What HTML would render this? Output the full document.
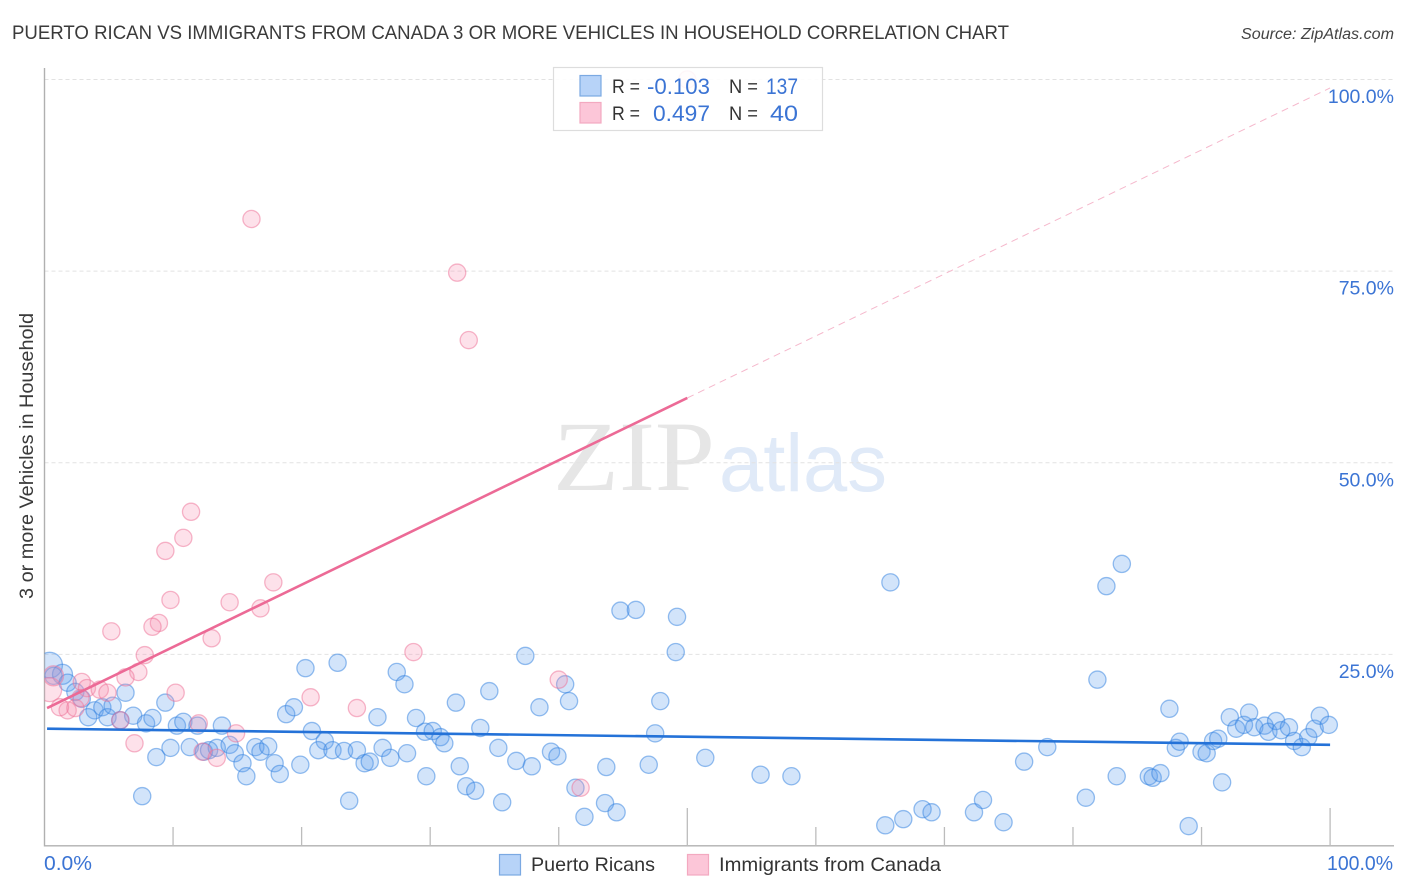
<!DOCTYPE html>
<html lang="en">
<head>
<meta charset="utf-8">
<title>Puerto Rican vs Immigrants from Canada correlation chart</title>
<style>
html,body{margin:0;padding:0;background:#fff}
svg{display:block;font-family:"Liberation Sans",sans-serif}
</style>
</head>
<body>
<svg id="chart" xmlns="http://www.w3.org/2000/svg" width="1406" height="892" viewBox="0 0 1406 892">
  <defs><clipPath id="plot-clip"><rect x="44.5" y="60" width="1350" height="786"/></clipPath></defs>
  <rect width="1406" height="892" fill="#fff"/>
  <text x="12" y="39" font-size="19.5" fill="#3a3a3a" textLength="997" lengthAdjust="spacingAndGlyphs">PUERTO RICAN VS IMMIGRANTS FROM CANADA 3 OR MORE VEHICLES IN HOUSEHOLD CORRELATION CHART</text>
  <text x="1394" y="39" font-size="15.5" font-style="italic" fill="#444" text-anchor="end" textLength="153" lengthAdjust="spacingAndGlyphs">Source: ZipAtlas.com</text>
  <text transform="translate(33,456) rotate(-90)" font-size="19" fill="#3a3a3a" text-anchor="middle" textLength="286" lengthAdjust="spacingAndGlyphs">3 or more Vehicles in Household</text>

  <g>
    <text x="553" y="490" font-family="'Liberation Serif',serif" font-size="100" fill="#e6e6e6" textLength="162" lengthAdjust="spacingAndGlyphs">ZIP</text>
    <text x="719" y="491" font-size="82" fill="#e0eaf8" textLength="168" lengthAdjust="spacingAndGlyphs">atlas</text>
  </g>

  <g id="grid"></g>
  <g id="axes"></g>
  <g id="blue-points" clip-path="url(#plot-clip)"></g>
  <g id="pink-points" clip-path="url(#plot-clip)"></g>
  <g id="trends"></g>
  <g id="labels"></g>

  <g>
    <rect x="553.5" y="67.5" width="269" height="63" fill="#fff" fill-opacity="0.88" stroke="#ddd" stroke-width="1.2"/>
    <rect x="580" y="75.5" width="21" height="20.5" fill="#b7d3f8" stroke="#7ba9e2" stroke-width="1.2"/>
    <rect x="580" y="102.5" width="21" height="20.5" fill="#fcc6d8" stroke="#f3a9c0" stroke-width="1.2"/>
    <text x="612" y="93" font-size="19" fill="#333" textLength="28" lengthAdjust="spacingAndGlyphs">R =</text>
    <text x="647" y="94" font-size="22.5" fill="#3b74d4" textLength="63" lengthAdjust="spacingAndGlyphs">-0.103</text>
    <text x="729" y="93" font-size="19" fill="#333" textLength="29" lengthAdjust="spacingAndGlyphs">N =</text>
    <text x="766" y="94" font-size="22.5" fill="#3b74d4" textLength="32" lengthAdjust="spacingAndGlyphs">137</text>
    <text x="612" y="120" font-size="19" fill="#333" textLength="28" lengthAdjust="spacingAndGlyphs">R =</text>
    <text x="653" y="121" font-size="22.5" fill="#3b74d4" textLength="57" lengthAdjust="spacingAndGlyphs">0.497</text>
    <text x="729" y="120" font-size="19" fill="#333" textLength="29" lengthAdjust="spacingAndGlyphs">N =</text>
    <text x="770" y="121" font-size="22.5" fill="#3b74d4" textLength="28" lengthAdjust="spacingAndGlyphs">40</text>
  </g>

  <g>
    <g>
      <rect x="499.5" y="854.5" width="21" height="20.5" fill="#b7d3f8" stroke="#7ba9e2" stroke-width="1.2"/>
      <text x="531" y="871" font-size="19.5" fill="#333" textLength="124" lengthAdjust="spacingAndGlyphs">Puerto Ricans</text>
    </g>
    <g>
      <rect x="687.5" y="854.5" width="21" height="20.5" fill="#fcc6d8" stroke="#f3a9c0" stroke-width="1.2"/>
      <text x="719" y="871" font-size="19.5" fill="#333" textLength="222" lengthAdjust="spacingAndGlyphs">Immigrants from Canada</text>
    </g>
  </g>
</svg>
<script>
const blueX = [0.4,1.4,0.7,1.8,2.4,2.9,3.9,3.4,4.5,4.9,5.3,6.3,5.9,6.9,7.9,8.4,9.4,8.7,9.8,7.6,10.3,10.8,11.9,11.3,12.4,12.8,13.4,13.8,14.4,14.8,15.4,15.7,16.4,16.8,17.4,17.9,18.3,18.8,19.4,20.3,19.9,20.8,21.8,21.3,22.4,22.8,23.3,23.7,24.3,24.9,25.3,26.3,26.9,28.2,25.9,27.4,28.0,28.9,29.6,30.2,30.8,31.1,29.7,32.0,33.9,34.6,32.3,32.8,33.5,35.3,36.7,37.9,35.6,37.4,38.5,39.4,39.9,40.5,40.8,41.3,43.7,43.6,42.0,44.5,47.0,47.5,47.9,49.1,51.4,44.8,46.0,49.2,55.7,58.1,65.8,82.6,83.8,65.4,66.8,68.3,69.0,72.3,73.0,74.6,76.2,78.0,81.9,87.5,81.0,83.4,85.9,86.2,86.8,88.0,88.3,89.0,91.6,90.0,90.4,90.9,91.3,92.2,92.7,93.3,93.7,94.1,94.9,95.2,95.8,96.2,96.8,97.2,97.8,98.3,98.8,99.2,99.9];
const blueY = [23.6,22.4,22.2,21.3,20.1,19.2,17.7,16.8,18.1,16.8,18.3,20.0,16.4,17.0,16.0,16.7,18.7,11.6,12.8,6.5,15.7,16.2,15.7,12.9,12.3,12.5,12.8,15.7,13.2,12.1,10.8,9.1,12.9,12.3,13.0,10.8,9.4,17.2,18.1,23.2,10.6,15.0,13.7,12.5,12.5,23.9,12.4,5.9,12.5,10.8,11.0,12.8,11.5,12.1,16.8,22.7,21.1,16.7,14.9,15.0,14.2,13.4,9.1,18.7,15.4,20.2,10.4,7.8,7.2,12.8,11.1,10.4,5.7,24.8,18.1,12.3,11.7,21.1,18.9,7.6,10.3,5.6,3.8,4.4,10.6,14.7,18.9,25.3,11.5,30.7,30.8,29.9,9.3,9.1,34.4,33.9,36.8,2.7,3.5,4.8,4.4,4.4,6.0,3.1,11.0,12.9,21.7,17.9,6.3,9.1,9.1,8.9,9.5,12.8,13.6,2.6,8.3,12.3,12.1,13.7,14.0,16.8,15.3,15.8,17.4,15.5,15.7,14.9,16.3,15.1,15.5,13.7,12.9,14.2,15.3,17.0,15.8];
const pinkX = [16.1,32.1,33.0,11.4,10.8,9.4,9.8,14.4,17.8,16.8,13.0,8.9,8.4,5.2,7.8,28.7,7.3,6.3,10.2,20.7,24.3,40.0,7.0,14.9,12.0,5.9,12.3,13.4,41.7,2.9,3.3,4.3,4.9,0.4,1.8,2.4,1.2,2.8,0.7,50.0];
const pinkY = [81.8,74.8,66.0,43.6,40.2,38.5,32.1,31.8,34.4,31.0,27.1,29.1,28.6,28.0,24.9,25.3,22.7,22.0,20.0,19.4,18.0,21.7,13.4,14.7,16.0,16.4,12.3,11.5,7.6,21.4,20.6,20.4,20.0,20.4,17.7,18.0,18.1,19.3,22.2,100.0];
const blueTrendEnds = [15.3, 13.2];
const pinkTrendEnds = [18.0, 98.9];
const yGridValues = [25, 50, 75, 100];
const yTickLabels = ['25.0%', '50.0%', '75.0%', '100.0%'];
const xTickValues = [10, 20, 30, 40, 50, 60, 70, 80, 90, 100];
const xEndValues = [0, 100];
const xEndLabels = ['0.0%', '100.0%'];

const NS = 'http://www.w3.org/2000/svg';
const xScale = v => 44.5 + v * 12.856;
const yScale = v => 846 - v * 7.665;
function make(tag, attrs, parent) {
  const el = document.createElementNS(NS, tag);
  for (const k in attrs) el.setAttribute(k, attrs[k]);
  parent.appendChild(el);
  return el;
}
const gridG = document.getElementById('grid');
const axesG = document.getElementById('axes');
const blueG = document.getElementById('blue-points');
const pinkG = document.getElementById('pink-points');
const trendG = document.getElementById('trends');
const labelG = document.getElementById('labels');

yGridValues.forEach(v => {
  const el = make('line', {x1: 44.5, x2: 1393, y1: yScale(v), y2: yScale(v), stroke: '#e2e2e2', 'stroke-width': 1, 'stroke-dasharray': '4 3'}, gridG);
  
  
});

const yAxis = make('line', {x1: 44.5, x2: 44.5, y1: 68, y2: 846.5, stroke: '#b0b0b0', 'stroke-width': 1.4}, axesG);


const xAxis = make('line', {x1: 44, x2: 1394, y1: 845.8, y2: 845.8, stroke: '#b0b0b0', 'stroke-width': 1.4}, axesG);


xTickValues.forEach(v => {
  const tall = v === 50 || v === 100;
  const el = make('line', {x1: xScale(v), x2: xScale(v), y1: tall ? 808 : 827, y2: 846, stroke: '#bcbcbc', 'stroke-width': 1.3}, axesG);
  
  
});

function drawPoints(xs, ys, group, fill, stroke, radius, name) {
  xs.forEach((v, i) => {
    const el = make('circle', {cx: xScale(v), cy: yScale(ys[i]), r: radius(i), fill: fill, 'fill-opacity': 0.27, stroke: stroke, 'stroke-opacity': 0.5, 'stroke-width': 1.3}, group);
    
    
  });
}
drawPoints(blueX, blueY, blueG, '#5a9bec', '#2f7fe0', i => i === 0 ? 12.8 : i === 1 ? 10 : 8.6, 'puerto-ricans-point');
drawPoints(pinkX, pinkY, pinkG, '#f78fb0', '#ee6f96', i => i === 33 ? 12 : i === 38 ? 10 : 8.6, 'immigrants-point');

const pinkAt = p => pinkTrendEnds[0] + (pinkTrendEnds[1] - pinkTrendEnds[0]) * p / 100;
const pinkDash = make('line', {x1: xScale(50), y1: yScale(pinkAt(50)), x2: xScale(100), y2: yScale(pinkAt(100)), stroke: '#f5b8cc', 'stroke-width': 1, 'stroke-dasharray': '7 5'}, trendG);


const pinkLine = make('line', {x1: xScale(0.2), y1: yScale(pinkAt(0)), x2: xScale(50), y2: yScale(pinkAt(50)), stroke: '#ec6a96', 'stroke-width': 2.6}, trendG);


const blueLine = make('line', {x1: xScale(0.2), y1: yScale(blueTrendEnds[0]), x2: xScale(100), y2: yScale(blueTrendEnds[1]), stroke: '#2472d8', 'stroke-width': 2.6}, trendG);



yGridValues.forEach((v, i) => {
  const el = make('text', {x: 1394, y: yScale(v) + 23.5, 'font-size': 19.5, fill: '#3b74d4', 'text-anchor': 'end'}, labelG);
  el.textContent = yTickLabels[i];
  
  
});
xEndValues.forEach((v, i) => {
  const el = make('text', {x: i === 0 ? 44 : 1327, y: 870, 'font-size': 20, fill: '#3b74d4', textLength: i === 0 ? 48 : 66, lengthAdjust: 'spacingAndGlyphs'}, labelG);
  el.textContent = xEndLabels[i];
  
  
});
</script>
</body>
</html>
